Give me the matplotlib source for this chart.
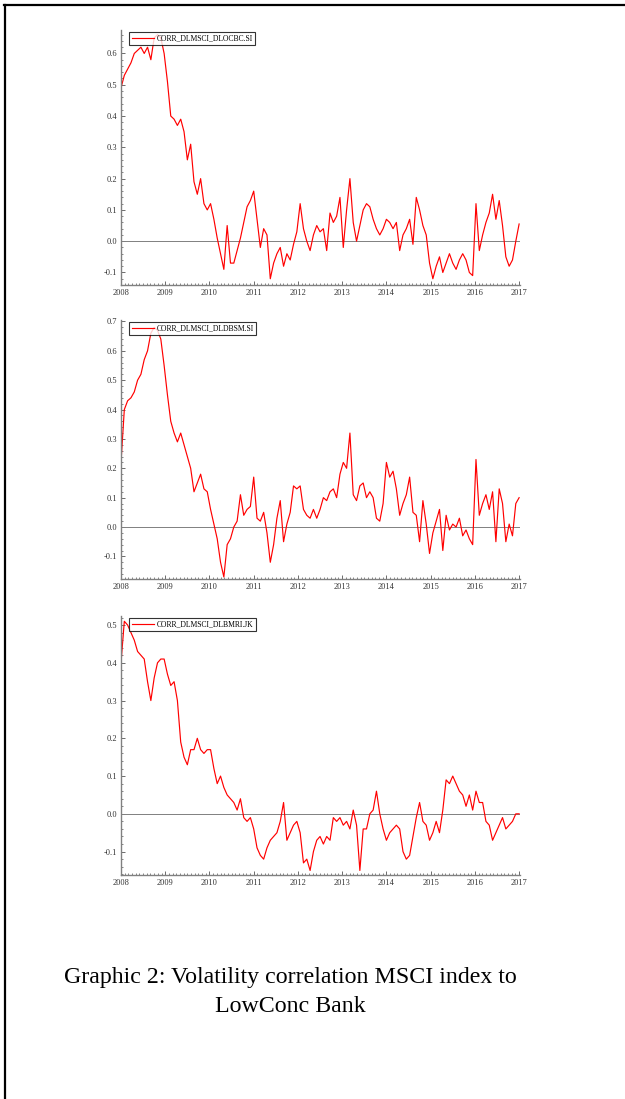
import numpy as np
import matplotlib
matplotlib.use("Agg")
import matplotlib.pyplot as plt
from matplotlib.lines import Line2D
from matplotlib.ticker import MultipleLocator

plt.rcParams['font.family'] = ['Liberation Serif', 'DejaVu Serif']

# values read roughly every 0.075 yr from 2008 to 2017
ocbc = [0.49, 0.53, 0.55, 0.57, 0.60, 0.61, 0.62, 0.60, 0.62, 0.58,
        0.65, 0.66, 0.65, 0.60, 0.51, 0.40, 0.39, 0.37, 0.39, 0.35,
        0.26, 0.31, 0.19, 0.15, 0.20, 0.12, 0.10, 0.12, 0.07, 0.01,
        -0.04, -0.09, 0.05, -0.07, -0.07, -0.03, 0.01, 0.06, 0.11, 0.13,
        0.16, 0.07, -0.02, 0.04, 0.02, -0.12, -0.07, -0.04, -0.02, -0.08,
        -0.04, -0.06, -0.01, 0.03, 0.12, 0.04, 0.00, -0.03, 0.02, 0.05,
        0.03, 0.04, -0.03, 0.09, 0.06, 0.08, 0.14, -0.02, 0.10, 0.20,
        0.06, 0.00, 0.05, 0.10, 0.12, 0.11, 0.07, 0.04, 0.02, 0.04,
        0.07, 0.06, 0.04, 0.06, -0.03, 0.02, 0.04, 0.07, -0.01, 0.14,
        0.10, 0.05, 0.02, -0.07, -0.12, -0.08, -0.05, -0.10, -0.07, -0.04,
        -0.07, -0.09, -0.06, -0.04, -0.06, -0.10, -0.11, 0.12, -0.03, 0.02,
        0.06, 0.09, 0.15, 0.07, 0.13, 0.05, -0.05, -0.08, -0.06, 0.00,
        0.055]

dbsm = [0.22, 0.40, 0.43, 0.44, 0.46, 0.50, 0.52, 0.57, 0.60, 0.66,
        0.68, 0.67, 0.64, 0.55, 0.45, 0.36, 0.32, 0.29, 0.32, 0.28,
        0.24, 0.20, 0.12, 0.15, 0.18, 0.13, 0.12, 0.06, 0.01, -0.04,
        -0.12, -0.17, -0.06, -0.04, 0.00, 0.02, 0.11, 0.04, 0.06, 0.07,
        0.17, 0.03, 0.02, 0.05, -0.02, -0.12, -0.06, 0.03, 0.09, -0.05,
        0.01, 0.05, 0.14, 0.13, 0.14, 0.06, 0.04, 0.03, 0.06, 0.03,
        0.06, 0.10, 0.09, 0.12, 0.13, 0.10, 0.18, 0.22, 0.20, 0.32,
        0.11, 0.09, 0.14, 0.15, 0.10, 0.12, 0.10, 0.03, 0.02, 0.08,
        0.22, 0.17, 0.19, 0.13, 0.04, 0.08, 0.11, 0.17, 0.05, 0.04,
        -0.05, 0.09, 0.01, -0.09, -0.02, 0.02, 0.06, -0.08, 0.04, -0.01,
        0.01, 0.00, 0.03, -0.03, -0.01, -0.04, -0.06, 0.23, 0.04, 0.08,
        0.11, 0.06, 0.12, -0.05, 0.13, 0.08, -0.05, 0.01, -0.03, 0.08,
        0.10]

bmri = [0.40, 0.51, 0.50, 0.48, 0.46, 0.43, 0.42, 0.41, 0.35, 0.30,
        0.36, 0.40, 0.41, 0.41, 0.37, 0.34, 0.35, 0.30, 0.19, 0.15,
        0.13, 0.17, 0.17, 0.20, 0.17, 0.16, 0.17, 0.17, 0.12, 0.08,
        0.10, 0.07, 0.05, 0.04, 0.03, 0.01, 0.04, -0.01, -0.02, -0.01,
        -0.04, -0.09, -0.11, -0.12, -0.09, -0.07, -0.06, -0.05, -0.02, 0.03,
        -0.07, -0.05, -0.03, -0.02, -0.05, -0.13, -0.12, -0.15, -0.10, -0.07,
        -0.06, -0.08, -0.06, -0.07, -0.01, -0.02, -0.01, -0.03, -0.02, -0.04,
        0.01, -0.03, -0.15, -0.04, -0.04, 0.00, 0.01, 0.06, 0.00, -0.04,
        -0.07, -0.05, -0.04, -0.03, -0.04, -0.10, -0.12, -0.11, -0.06, -0.01,
        0.03, -0.02, -0.03, -0.07, -0.05, -0.02, -0.05, 0.01, 0.09, 0.08,
        0.10, 0.08, 0.06, 0.05, 0.02, 0.05, 0.01, 0.06, 0.03, 0.03,
        -0.02, -0.03, -0.07, -0.05, -0.03, -0.01, -0.04, -0.03, -0.02, 0.00,
        0.00]

names = ["CORR_DLMSCI_DLOCBC.SI", "CORR_DLMSCI_DLDBSM.SI", "CORR_DLMSCI_DLBMRI.JK"]
series = [ocbc, dbsm, bmri]
ylims = [(-0.14, 0.675), (-0.177, 0.705), (-0.162, 0.524)]
# axes top/bottom in pixels
rows = [(30, 285), (320, 579), (616, 875)]
years = [2008, 2009, 2010, 2011, 2012, 2013, 2014, 2015, 2016, 2017]

W, H = 625, 1099
fig = plt.figure(figsize=(W/100, H/100), dpi=100)

for name, vals, yl, (top, bot) in zip(names, series, ylims, rows):
    ax = fig.add_axes([121/W, 1 - bot/H, 399/W, (bot - top)/H])
    t = np.linspace(2008, 2017, len(vals))
    ax.axhline(0, color='#808080', lw=0.7)
    ax.plot(t, vals, color='red', lw=0.85, label=name)
    ax.set_xlim(2008, 2017.02)
    ax.set_ylim(*yl)
    for s in ['top', 'right']:
        ax.spines[s].set_visible(False)
    for s in ['left', 'bottom']:
        ax.spines[s].set_color('#808080')
        ax.spines[s].set_linewidth(1.0)
    ax.set_xticks(years)
    ax.set_xticklabels([str(y) for y in years])
    ax.xaxis.set_minor_locator(MultipleLocator(1/12))
    ax.yaxis.set_major_locator(MultipleLocator(0.1))
    ax.yaxis.set_minor_locator(MultipleLocator(0.02))
    ax.tick_params(which='both', direction='in', color='#555555', labelsize=6,
                   labelcolor='#333333', pad=3)
    ax.tick_params(which='major', length=3, width=0.6)
    ax.tick_params(which='minor', length=1.5, width=0.5)
    ax.yaxis.set_major_formatter(plt.FuncFormatter(lambda v, p: f"{v:.1f}"))
    leg = ax.legend(loc='upper left', bbox_to_anchor=(0.015, 1.0), fontsize=5.5,
                    frameon=True, fancybox=False, borderpad=0.3, handlelength=3.0,
                    handletextpad=0.3, borderaxespad=0.3)
    leg.get_frame().set_edgecolor('black')
    leg.get_frame().set_linewidth(0.8)

fig.text(290/W, 1 - 983/H, "Graphic 2: Volatility correlation MSCI index to",
         ha='center', va='baseline', fontsize=17.2, color='black')
fig.text(290/W, 1 - 1012/H, "LowConc Bank",
         ha='center', va='baseline', fontsize=17.2, color='black')

# page border (top and left edges)
fig.add_artist(Line2D([4/W, 1], [1 - 5/H, 1 - 5/H], color='black', lw=1.6))
fig.add_artist(Line2D([4.5/W, 4.5/W], [0, 1 - 5/H], color='black', lw=1.6))

fig.savefig("out.png", dpi=100)
